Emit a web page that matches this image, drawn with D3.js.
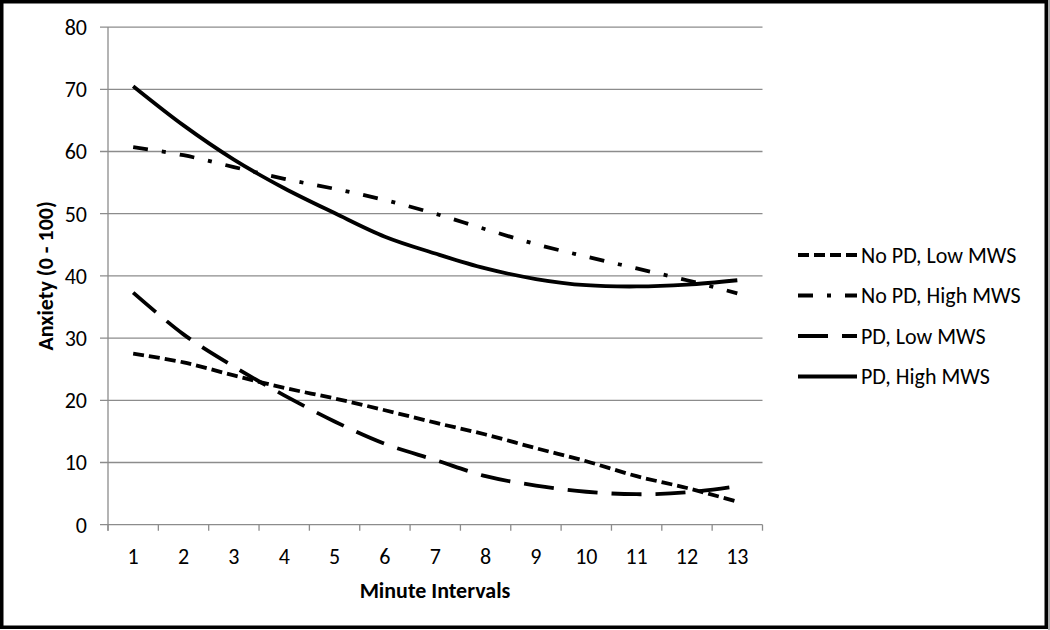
<!DOCTYPE html>
<html>
<head>
<meta charset="utf-8">
<script src="https://cdn.jsdelivr.net/npm/d3@7"></script>
<style>
  html, body { margin: 0; padding: 0; background: #fff; }
  svg { display: block; }
  text { font-family: Carlito, "Liberation Sans", Arial, sans-serif; fill: #000; }
</style>
</head>
<body>
<svg id="chart" width="1050" height="630"></svg>
<script>
// ---- Data ----
const categories = [1, 2, 3, 4, 5, 6, 7, 8, 9, 10, 11, 12, 13];
const noPdLowMws  = [27.5, 26.1, 24.0, 22.0, 20.3, 18.4, 16.4, 14.5, 12.3, 10.2, 7.8, 5.9, 3.7];
const noPdHighMws = [60.7, 59.4, 57.5, 55.6, 54.0, 52.2, 50.0, 47.5, 45.1, 43.1, 41.2, 39.3, 37.2];
const pdLowMws    = [37.3, 30.6, 25.4, 20.8, 16.6, 13.0, 10.4, 7.8, 6.3, 5.3, 4.9, 5.2, 6.2];
const pdHighMws   = [70.5, 64.2, 58.7, 54.1, 50.1, 46.3, 43.6, 41.2, 39.5, 38.5, 38.3, 38.6, 39.3];
const seriesNames = ["No PD, Low MWS", "No PD, High MWS", "PD, Low MWS", "PD, High MWS"];
const yTicks = [0, 10, 20, 30, 40, 50, 60, 70, 80];
const xTitle = "Minute Intervals";
const yTitle = "Anxiety (0 - 100)";

(function () {
const seriesValues = [noPdLowMws, noPdHighMws, pdLowMws, pdHighMws];
const dashes = ["11,5", "15,14,4,14", "30,14", null];
const fs = 22;

const svg = d3.select("#chart");

// Frame border
svg.append("rect").attr("x", 1048).attr("y", 0).attr("width", 2).attr("height", 630).attr("fill", "#aaa");
svg.append("rect").attr("x", 1.75).attr("y", 1.75).attr("width", 1044.5).attr("height", 625.5)
  .attr("fill", "none").attr("stroke", "#000").attr("stroke-width", 3.5);

const pL = 108, pR = 762.5, pT = 27.1, pB = 524.7;

const x = d3.scaleBand().domain(categories).range([pL, pR]).paddingInner(0).paddingOuter(0);
const y = d3.scaleLinear().domain([0, 80]).range([pB, pT]);
const cx = d => x(d) + x.bandwidth() / 2;

const gridColor = "#8c8c8c";

// Gridlines
svg.append("g").selectAll("line").data(yTicks).join("line")
  .attr("x1", pL - 8).attr("x2", pR).attr("y1", d => y(d)).attr("y2", d => y(d))
  .attr("stroke", gridColor).attr("stroke-width", 1.3);
// Y tick labels
svg.append("g").selectAll("text").data(yTicks).join("text")
  .attr("x", 87).attr("y", d => y(d)).attr("dy", "0.36em")
  .attr("text-anchor", "end").attr("font-size", fs).text(d => d);

// Y axis line
svg.append("line").attr("x1", pL).attr("x2", pL).attr("y1", pT).attr("y2", pB + 6)
  .attr("stroke", gridColor).attr("stroke-width", 1.3);

// X axis ticks at band edges
const edges = categories.map(c => x(c)).concat([x(categories[categories.length - 1]) + x.bandwidth()]);
svg.append("g").selectAll("line").data(edges).join("line")
  .attr("x1", d => d).attr("x2", d => d).attr("y1", pB).attr("y2", pB + 6)
  .attr("stroke", gridColor).attr("stroke-width", 1.3);
svg.append("g").selectAll("text").data(categories).join("text")
  .attr("x", d => cx(d)).attr("y", 556).attr("dy", "0.36em")
  .attr("text-anchor", "middle").attr("font-size", fs).text(d => d);

// Axis titles
svg.append("text").attr("x", 435).attr("y", 590).attr("dy", "0.36em")
  .attr("text-anchor", "middle").attr("font-size", fs).attr("font-weight", "bold").text(xTitle);
svg.append("text").attr("transform", `translate(45,${(pT + pB) / 2}) rotate(-90)`)
  .attr("dy", "0.36em").attr("text-anchor", "middle").attr("font-size", fs)
  .attr("font-weight", "bold").text(yTitle);

// Lines
const line = d3.line().x((d, i) => cx(categories[i])).y(d => y(d)).curve(d3.curveCatmullRom.alpha(0));
seriesValues.forEach((vals, i) => {
  const p = svg.append("path").attr("d", line(vals)).attr("fill", "none")
    .attr("stroke", "#000").attr("stroke-width", 3.8);
  if (dashes[i]) p.attr("stroke-dasharray", dashes[i]);
});

// Legend
const legY = [255, 295.5, 336, 376.5];
seriesNames.forEach((name, i) => {
  const l = svg.append("line").attr("x1", 798).attr("x2", 857).attr("y1", legY[i]).attr("y2", legY[i])
    .attr("stroke", "#000").attr("stroke-width", 3.8);
  if (dashes[i]) l.attr("stroke-dasharray", dashes[i]);
  svg.append("text").attr("x", 861).attr("y", legY[i]).attr("dy", "0.36em")
    .attr("font-size", fs).text(name);
});
})();
</script>
</body>
</html>
